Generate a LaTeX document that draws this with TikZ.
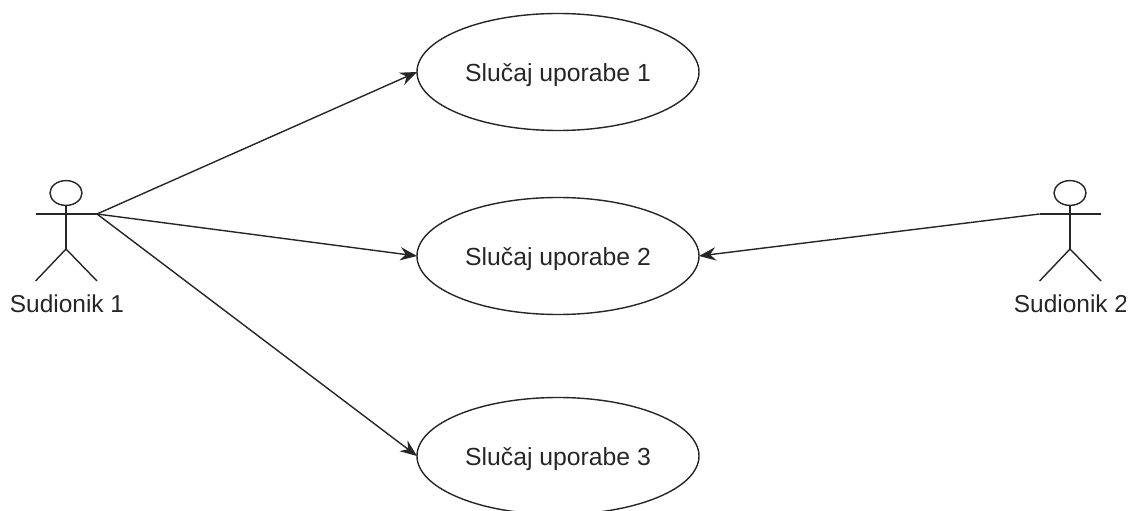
\documentclass[tikz,border=0pt]{standalone}
\usepackage{fontspec}
\setmainfont{Liberation Sans}
\usepackage{tikz}
\usetikzlibrary{shapes.geometric, arrows.meta}

\begin{document}
\begin{tikzpicture}
    % Styles
    \tikzstyle{usecase} = [ellipse, draw=black!85, line width=1pt, minimum width=7.05cm, minimum height=2.925cm, inner sep=0pt, outer sep=0pt, font=\fontsize{17.6}{20}\selectfont, text=black!85, text depth=0pt]
    \tikzstyle{arrow} = [-{Stealth[length=12pt, width=9.5pt, inset=4pt]}, line width=1pt, draw=black!85]
    \tikzstyle{stick} = [line width=1pt, draw=black!85]
    \tikzstyle{actorname} = [font=\fontsize{17.4}{20}\selectfont, text=black!85, inner sep=0pt]

    \useasboundingbox (0, 0) rectangle (28.25, 12.75);
    \clip (0, 0) rectangle (28.125, 12.75);

    % Use cases
    \node[usecase] (UC1) at (13.95, 10.95) {Slučaj uporabe 1};
    \node[usecase] (UC2) at (13.95, 6.35) {Slučaj uporabe 2};
    \node[usecase] (UC3) at (13.95, 1.35) {Slučaj uporabe 3};

    % Actors
    \foreach \n/\x in {1/1.65, 2/26.75} {
        \node[stick, draw, ellipse, minimum width=0.8cm, minimum height=0.62cm, inner sep=0pt, outer sep=0pt] (head\n) at (\x, 7.925) {};
        \coordinate (armL\n) at (\x-0.76, 7.4);
        \coordinate (armR\n) at (\x+0.775, 7.4);
        \coordinate (hip\n) at (\x, 6.525);
        \draw[stick] (head\n.south) -- (hip\n);
        \draw[stick] (armL\n) -- (armR\n);
        \draw[stick] (\x-0.76, 5.725) -- (hip\n) -- (\x+0.775, 5.725);
        \node[actorname] (name\n) at (\x+0.025, 5.15) {Sudionik \n};
    }

    % Arrows
    \draw[arrow] (armR1) -- (UC1.west);
    \draw[arrow] (armR1) -- (UC2.west);
    \draw[arrow] (armR1) -- (UC3.west);
    \draw[arrow] (armL2) -- (UC2.east);
\end{tikzpicture}
\end{document}
